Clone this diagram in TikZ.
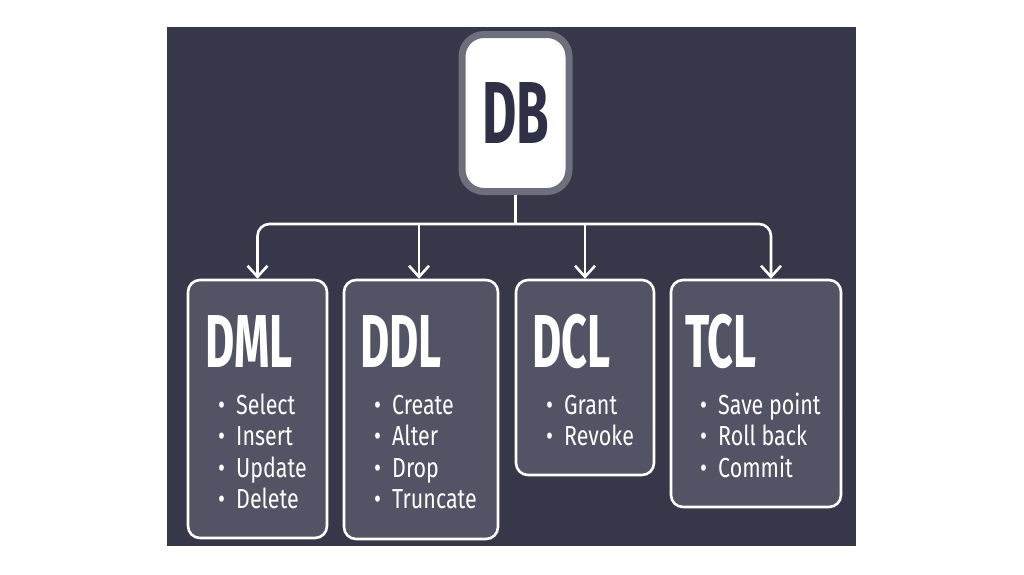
\documentclass[tikz,border=0pt]{standalone}
\usepackage{fontspec}
\usetikzlibrary{arrows.meta}
\newfontfamily\titlefont[FakeStretch=0.6]{Fira Sans}
\newfontfamily\itemfont[FakeStretch=0.78]{Fira Sans}
\definecolor{panel}{HTML}{363749}
\definecolor{boxfill}{HTML}{525364}
\definecolor{ring}{HTML}{6E6F7C}
\definecolor{dbtext}{HTML}{2E3046}
\newcommand\itm[1]{\makebox[18pt][l]{\textbullet}#1}
\begin{document}
\begin{tikzpicture}[x=1pt,y=-1pt,
  catbox/.style={draw=white, line width=2.6pt, fill=boxfill, rounded corners=12pt, inner sep=0pt},
  cattitle/.style={text=white, anchor=base west, inner sep=0pt, font=\titlefont\bfseries\fontsize{75}{75}\selectfont},
  itemtxt/.style={text=white, anchor=base west, inner sep=0pt, font=\itemfont\fontsize{27.5}{27.5}\selectfont},
  conn/.style={draw=white, line width=2.6pt, rounded corners=12pt},
  arr/.style={-{Straight Barb[length=11pt,width=20pt]}}
]
\useasboundingbox (0,0) rectangle (1024,574);
\fill[white] (0,0) rectangle (1024,574);
\fill[panel] (167,27) rectangle (856,546);

% DB
\node[draw=ring, line width=7pt, fill=white, rounded corners=22pt, minimum width=107pt, minimum height=157pt, inner sep=0pt,
      text=dbtext, font=\titlefont\bfseries\fontsize{88}{88}\selectfont] (db) at (515.5,113) {DB};

% category boxes
\node[catbox, minimum width=139pt, minimum height=258pt] (dml) at (257.5,409) {};
\node[catbox, minimum width=154pt, minimum height=259pt] (ddl) at (421,409.5) {};
\node[catbox, minimum width=138pt, minimum height=195pt] (dcl) at (585,377.5) {};
\node[catbox, minimum width=170pt, minimum height=227pt] (tcl) at (756,393.5) {};

% connectors
\coordinate (j) at (515.5,224);
\draw[conn] (db.south) -- (j);
\draw[conn,arr] (j) -| (dml.north);
\draw[conn,arr] (j) -| ([xshift=15pt]tcl.north);
\draw[conn,arr] ([xshift=-2pt]ddl.north |- j) -- ([xshift=-2pt]ddl.north);
\draw[conn,arr] (dcl.north |- j) -- (dcl.north);

% titles
\node[cattitle] (dmlt) at (205,367) {DML};
\node[cattitle] (ddlt) at (360,367) {DDL};
\node[cattitle] (dclt) at (532,367) {DCL};
\node[cattitle] (tclt) at (685,367) {TCL};

% items
\node[itemtxt] (dml1) at (218,414) {\itm{Select}};
\node[itemtxt] (dml2) at (218,445.5) {\itm{Insert}};
\node[itemtxt] (dml3) at (218,477) {\itm{Update}};
\node[itemtxt] (dml4) at (218,508.5) {\itm{Delete}};

\node[itemtxt] (ddl1) at (374,414) {\itm{Create}};
\node[itemtxt] (ddl2) at (374,445.5) {\itm{Alter}};
\node[itemtxt] (ddl3) at (374,477) {\itm{Drop}};
\node[itemtxt] (ddl4) at (374,508.5) {\itm{Truncate}};

\node[itemtxt] (dcl1) at (546,414) {\itm{Grant}};
\node[itemtxt] (dcl2) at (546,445.5) {\itm{Revoke}};

\node[itemtxt] (tcl1) at (700,414) {\itm{Save point}};
\node[itemtxt] (tcl2) at (700,445.5) {\itm{Roll back}};
\node[itemtxt] (tcl3) at (700,477) {\itm{Commit}};
\end{tikzpicture}
\end{document}
